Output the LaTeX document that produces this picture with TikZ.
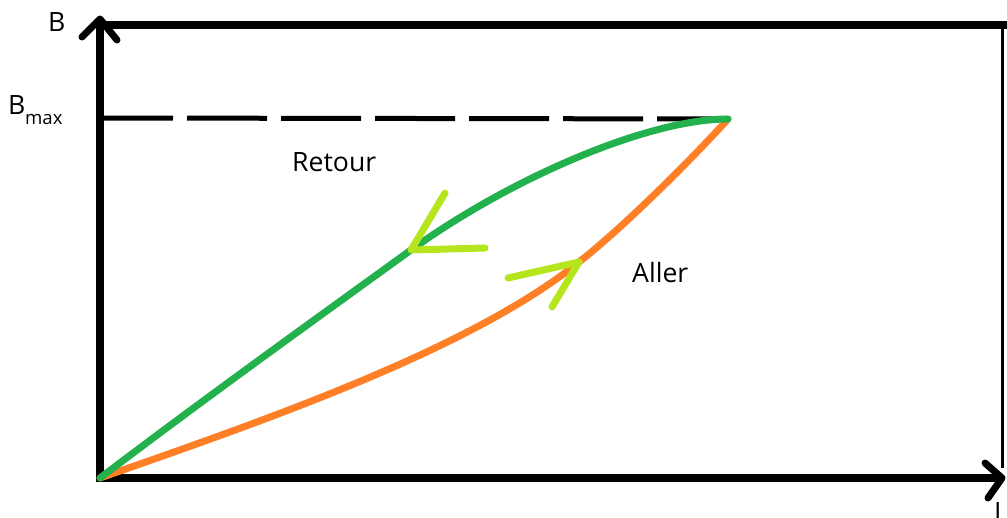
\documentclass[tikz,border=0pt]{standalone}
\usepackage{fontspec}
\setmainfont{Open Sans}
\definecolor{pgreen}{HTML}{22B14C}
\definecolor{porange}{HTML}{FF7F27}
\definecolor{plime}{HTML}{B5E61D}
\begin{document}
\begin{tikzpicture}[x=1pt,y=-1pt,
  axisline/.style={line width=7.5pt},
  tipline/.style={line width=7pt, line cap=round, line join=round},
  curveline/.style={line width=7pt, line cap=round, line join=round},
  dirarrow/.style={plime, line width=7pt, line cap=round, line join=round},
  lbl/.style={inner sep=0pt, anchor=base west, font=\fontsize{26.6}{30}\selectfont},
  sublbl/.style={inner sep=0pt, anchor=base west, font=\fontsize{18.6}{22}\selectfont}]
\useasboundingbox (0,0) rectangle (1007,518);
\coordinate (O) at (100,478);
\coordinate (Ytip) at (100,19);
\coordinate (Xtip) at (1002,478);
\coordinate (TopL) at (100,25);
\coordinate (TopR) at (1007,25);
\coordinate (RightT) at (1002.5,29);
\coordinate (RightB) at (1002.5,468);
\coordinate (BmaxL) at (100,118);
\coordinate (P) at (728,119);
\coordinate (GA) at (411,250);
\coordinate (OA) at (579,262);
% frame
\draw[axisline] (TopL) -- (TopR);
\draw[line width=2.5pt] (RightT) -- (RightB);
% axes
\draw[axisline] (100,482) -- (Ytip);
\draw[axisline] (96,478) -- (Xtip);
\draw[tipline] (82,37) -- (Ytip) -- (117,40);
\draw[tipline] (985,463) -- (Xtip) -- (988,498);
% Bmax dashed line
\draw[line width=5pt, dash pattern=on 80pt off 14pt, dash phase=7pt] (BmaxL) -- (P);
% curves
\draw[curveline, porange] (O) .. controls (260,422) and (470,350) .. (OA)
  .. controls (630,222) and (703,147) .. (P);
\draw[curveline, pgreen] (O) .. controls (200,402) and (310,323) .. (GA)
  .. controls (511,178) and (648,119) .. (P);
% direction arrows
\draw[dirarrow] (445,193) -- (GA) -- (485,248);
\draw[dirarrow] (508,278) -- (OA) -- (552,307);
% labels
\node[lbl] (lB) at (48,32) {B};
\node[lbl] (lBmax) at (8,115) {B};
\node[sublbl] (lmax) at (25,125) {max};
\node[lbl] (lRetour) at (292,172) {Retour};
\node[lbl] (lAller) at (632,283) {Aller};
\node[lbl] (lI) at (994,521) {I};
\end{tikzpicture}
\end{document}
